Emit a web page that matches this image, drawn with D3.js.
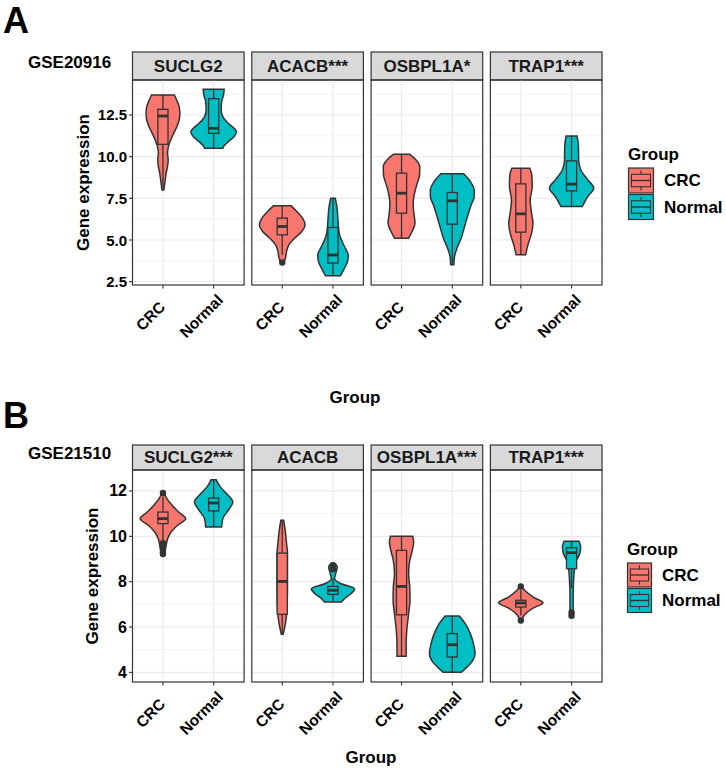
<!DOCTYPE html>
<html>
<head>
<meta charset="utf-8">
<script src="https://cdn.jsdelivr.net/npm/d3@7"></script>
<style>
  body { margin: 0; background: #fff; }
  text { font-family: "Liberation Sans", Arial, sans-serif; font-weight: bold; }
</style>
</head>
<body>
<div id="chart"></div>
<script>
// ---- data ----
const groups = ['CRC', 'Normal'];
const colors = ['#F8766D', '#00BFC4'];

const genesA = ['SUCLG2', 'ACACB***', 'OSBPL1A*', 'TRAP1***'];
const genesB = ['SUCLG2***', 'ACACB', 'OSBPL1A***', 'TRAP1***'];

const ticksA = [2.5, 5.0, 7.5, 10.0, 12.5];
const ticksB = [4, 6, 8, 10, 12];

// violin outlines: [expression, relative half width (1 = widest violin)]
const vA_SUCLG2_CRC = [[13.70, 0.50], [13.40, 0.60], [13.00, 0.71], [12.60, 0.74], [12.20, 0.71], [11.80, 0.61], [11.40, 0.47], [11.00, 0.34], [10.60, 0.24], [10.20, 0.20], [9.80, 0.23], [9.40, 0.20], [9.00, 0.14], [8.50, 0.09], [8.00, 0.04]];
const vA_SUCLG2_Normal = [[14.04, 0.46], [13.70, 0.43], [13.30, 0.35], [12.80, 0.33], [12.40, 0.40], [12.00, 0.64], [11.70, 0.89], [11.50, 1.00], [11.20, 0.89], [10.90, 0.64], [10.60, 0.43], [10.50, 0.40]];
const vA_ACACB_CRC = [[7.05, 0.39], [6.71, 0.64], [6.31, 0.89], [5.91, 1.00], [5.51, 0.86], [5.11, 0.54], [4.71, 0.29], [4.32, 0.19], [3.92, 0.14], [3.65, 0.07]];
const vA_ACACB_Normal = [[7.51, 0.10], [7.01, 0.17], [6.41, 0.21], [5.81, 0.24], [5.31, 0.29], [4.91, 0.40], [4.51, 0.54], [4.10, 0.67], [3.72, 0.64], [3.30, 0.50], [2.86, 0.33]];
const vA_OSBPL1A_CRC = [[10.14, 0.36], [9.80, 0.64], [9.40, 0.80], [8.90, 0.79], [8.41, 0.69], [7.81, 0.57], [7.21, 0.51], [6.61, 0.54], [6.01, 0.59], [5.51, 0.46], [5.11, 0.31]];
const vA_OSBPL1A_Normal = [[8.97, 0.50], [8.51, 0.79], [8.01, 0.96], [7.61, 0.96], [7.11, 0.83], [6.51, 0.69], [5.81, 0.54], [5.11, 0.39], [4.52, 0.21], [4.02, 0.10], [3.52, 0.07]];
const vA_TRAP1_CRC = [[9.31, 0.39], [8.91, 0.48], [8.21, 0.50], [7.41, 0.41], [6.61, 0.47], [6.01, 0.53], [5.41, 0.47], [4.71, 0.31], [4.12, 0.21]];
const vA_TRAP1_Normal = [[11.24, 0.24], [10.60, 0.30], [9.80, 0.31], [9.21, 0.40], [8.61, 0.71], [8.11, 0.97], [7.61, 0.71], [7.01, 0.47]];

const vB_SUCLG2_CRC = [[11.96, 0.04], [11.66, 0.17], [11.37, 0.40], [11.07, 0.69], [10.78, 1.00], [10.49, 0.64], [10.19, 0.36], [9.90, 0.21], [9.60, 0.14], [9.20, 0.07]];
const vB_SUCLG2_Normal = [[12.50, 0.11], [12.18, 0.29], [11.88, 0.57], [11.51, 0.84], [11.15, 0.64], [10.78, 0.40], [10.41, 0.35]];
const vB_ACACB_CRC = [[10.71, 0.06], [10.26, 0.13], [9.68, 0.19], [9.24, 0.23], [8.50, 0.23], [7.76, 0.23], [7.03, 0.22], [6.44, 0.18], [6.00, 0.11], [5.68, 0.04]];
const vB_ACACB_Normal = [[8.82, 0.07], [8.65, 0.19], [8.43, 0.14], [8.13, 0.07], [7.91, 0.36], [7.69, 0.95], [7.47, 0.79], [7.25, 0.50], [7.10, 0.37]];
const vB_OSBPL1A_CRC = [[10.00, 0.49], [9.75, 0.53], [9.38, 0.47], [8.94, 0.36], [8.35, 0.31], [7.76, 0.36], [7.18, 0.37], [6.59, 0.31], [5.85, 0.23], [5.26, 0.20], [4.71, 0.20]];
const vB_OSBPL1A_Normal = [[6.49, 0.31], [6.15, 0.57], [5.71, 0.79], [5.26, 0.93], [4.82, 1.00], [4.46, 0.86], [4.16, 0.57], [4.00, 0.40]];
const vB_TRAP1_CRC = [[7.79, 0.04], [7.62, 0.17], [7.32, 0.54], [7.07, 0.97], [6.81, 0.50], [6.51, 0.14], [6.26, 0.04]];
const vB_TRAP1_Normal = [[9.78, 0.33], [9.53, 0.40], [9.24, 0.36], [8.94, 0.21], [8.57, 0.13], [8.06, 0.09], [7.32, 0.07], [6.74, 0.07], [6.44, 0.04]];

// box stats: [lower whisker, q1, median, q3, upper whisker]
const boxA = [
  [[8.00, 10.74, 12.44, 12.84, 13.70], [10.50, 11.40, 11.70, 13.48, 14.04]],
  [[4.10, 5.31, 5.81, 6.31, 7.05], [2.86, 3.62, 4.10, 5.75, 7.51]],
  [[5.11, 6.61, 7.81, 9.01, 10.14], [3.52, 5.95, 7.35, 7.85, 8.97]],
  [[4.12, 5.47, 6.57, 8.37, 9.31], [7.01, 7.95, 8.35, 9.75, 11.24]]
];
const boxB = [
  [[9.82, 10.56, 10.78, 11.07, 11.74], [10.41, 11.12, 11.47, 11.69, 12.50]],
  [[5.68, 6.56, 8.01, 9.26, 10.71], [7.10, 7.44, 7.62, 7.79, 8.13]],
  [[4.71, 6.54, 7.79, 9.38, 10.00], [4.00, 4.68, 5.22, 5.71, 6.49]],
  [[6.51, 6.88, 7.06, 7.18, 7.62], [7.70, 8.57, 9.28, 9.50, 9.78]]
];
const outA = [[[], []], [[3.65], []], [[], []], [[], []]];
const outB = [
  [[11.91, 9.70, 9.56, 9.42, 9.30, 9.22], []],
  [[], [8.72, 8.55]],
  [[], []],
  [[7.79, 6.29], [6.64, 6.50]]
];

const violinsA = [
  [vA_SUCLG2_CRC, vA_SUCLG2_Normal],
  [vA_ACACB_CRC, vA_ACACB_Normal],
  [vA_OSBPL1A_CRC, vA_OSBPL1A_Normal],
  [vA_TRAP1_CRC, vA_TRAP1_Normal]
];
const violinsB = [
  [vB_SUCLG2_CRC, vB_SUCLG2_Normal],
  [vB_ACACB_CRC, vB_ACACB_Normal],
  [vB_OSBPL1A_CRC, vB_OSBPL1A_Normal],
  [vB_TRAP1_CRC, vB_TRAP1_Normal]
];

// ---- layout ----
const width = 726, height = 771;
const panelLeft = 132.5, panelW = 111.6, panelGap = 7.7;
const ink = '#333333';

const svg = d3.select('#chart').append('svg')
  .attr('width', width).attr('height', height)
  .attr('viewBox', `0 0 ${width} ${height}`);

function drawPart(cfg) {
  const g = svg.append('g');

  // panel letter + dataset name
  g.append('text').attr('x', cfg.letterX).attr('y', cfg.letterY)
    .style('font-size', '36px').text(cfg.letter);
  g.append('text').attr('x', 28).attr('y', cfg.gseY)
    .style('font-size', '17px').text(cfg.gse);

  // shared y scale, 5% expansion like ggplot
  const all = cfg.violins.flat(2).map(d => d[0]);
  const ext = d3.extent(all);
  const pad = (ext[1] - ext[0]) * 0.05;
  const y = d3.scaleLinear()
    .domain([ext[0] - pad, ext[1] + pad])
    .range([cfg.bottom, cfg.top]);

  const minor = [];
  for (let i = 0; i < cfg.ticks.length; i++) {
    const step = cfg.ticks[1] - cfg.ticks[0];
    [cfg.ticks[i] - step / 2, cfg.ticks[i] + step / 2].forEach(m => {
      if (m > y.domain()[0] && m < y.domain()[1] && !minor.includes(m)) minor.push(m);
    });
  }

  cfg.genes.forEach((gene, gi) => {
    const px = panelLeft + gi * (panelW + panelGap);
    const x = d3.scalePoint().domain(groups).range([px, px + panelW]).padding(0.6);
    const stepX = x.step();
    const half = 0.45 * stepX;
    const boxHalf = 0.1 * stepX;
    const pg = g.append('g');

    // strip
    pg.append('rect')
      .attr('x', px).attr('y', cfg.stripTop)
      .attr('width', panelW).attr('height', cfg.top - cfg.stripTop)
      .attr('fill', '#D9D9D9').attr('stroke', ink).attr('stroke-width', 1.2);
    pg.append('text')
      .attr('x', px + panelW / 2).attr('y', (cfg.stripTop + cfg.top) / 2)
      .attr('text-anchor', 'middle').attr('dominant-baseline', 'central')
      .attr('fill', '#1A1A1A')
      .style('font-size', '17px').text(gene);

    // grid
    pg.selectAll('.minor').data(minor).join('line')
      .attr('x1', px).attr('x2', px + panelW)
      .attr('y1', d => y(d)).attr('y2', d => y(d))
      .attr('stroke', '#EBEBEB').attr('stroke-width', 0.6);
    pg.selectAll('.major').data(cfg.ticks).join('line')
      .attr('x1', px).attr('x2', px + panelW)
      .attr('y1', d => y(d)).attr('y2', d => y(d))
      .attr('stroke', '#EBEBEB').attr('stroke-width', 1.2);
    pg.selectAll('.vgrid').data(groups).join('line')
      .attr('x1', d => x(d)).attr('x2', d => x(d))
      .attr('y1', cfg.top).attr('y2', cfg.bottom)
      .attr('stroke', '#EBEBEB').attr('stroke-width', 1.2);

    groups.forEach((grp, k) => {
      const cx = x(grp);
      const prof = cfg.violins[gi][k];
      const area = d3.area()
        .curve(d3.curveMonotoneY)
        .y(d => y(d[0]))
        .x0(d => cx - d[1] * half)
        .x1(d => cx + d[1] * half);
      pg.append('path')
        .datum(prof)
        .attr('d', area)
        .attr('fill', colors[k])
        .attr('stroke', ink).attr('stroke-width', 1.5);

      const b = cfg.boxes[gi][k];
      pg.append('line')
        .attr('x1', cx).attr('x2', cx).attr('y1', y(b[4])).attr('y2', y(b[3]))
        .attr('stroke', ink).attr('stroke-width', 1.3);
      pg.append('line')
        .attr('x1', cx).attr('x2', cx).attr('y1', y(b[1])).attr('y2', y(b[0]))
        .attr('stroke', ink).attr('stroke-width', 1.3);
      pg.append('rect')
        .attr('x', cx - boxHalf).attr('width', boxHalf * 2)
        .attr('y', y(b[3])).attr('height', y(b[1]) - y(b[3]))
        .attr('fill', colors[k]).attr('stroke', ink).attr('stroke-width', 1.3);
      pg.append('line')
        .attr('x1', cx - boxHalf).attr('x2', cx + boxHalf)
        .attr('y1', y(b[2])).attr('y2', y(b[2]))
        .attr('stroke', ink).attr('stroke-width', 2.8);

      pg.selectAll('.out' + k).data(cfg.outliers[gi][k]).join('circle')
        .attr('cx', cx).attr('cy', d => y(d)).attr('r', 3.2)
        .attr('fill', ink);
    });

    // border
    pg.append('rect')
      .attr('x', px).attr('y', cfg.top)
      .attr('width', panelW).attr('height', cfg.bottom - cfg.top)
      .attr('fill', 'none').attr('stroke', ink).attr('stroke-width', 1.2);

    // x axis ticks + rotated labels
    pg.selectAll('.xt').data(groups).join('line')
      .attr('x1', d => x(d)).attr('x2', d => x(d))
      .attr('y1', cfg.bottom).attr('y2', cfg.bottom + 3.5)
      .attr('stroke', ink).attr('stroke-width', 1.1);
    pg.selectAll('.xl').data(groups).join('text')
      .attr('transform', d => `translate(${x(d) - 12.5},${cfg.bottom + 31}) rotate(-45)`)
      .attr('text-anchor', 'middle').attr('dominant-baseline', 'central')
      .attr('fill', '#000')
      .style('font-size', '15.5px')
      .text(d => d);

    if (gi === 0) {
      pg.selectAll('.yt').data(cfg.ticks).join('line')
        .attr('x1', px - 3.5).attr('x2', px)
        .attr('y1', d => y(d)).attr('y2', d => y(d))
        .attr('stroke', ink).attr('stroke-width', 1.1);
      pg.selectAll('.yl').data(cfg.ticks).join('text')
        .attr('x', px - 5.5).attr('y', d => y(d))
        .attr('text-anchor', 'end').attr('dominant-baseline', 'central')
        .attr('fill', '#000')
        .style('font-size', cfg.tickSize)
        .text(d => cfg.tickFmt(d));
    }
  });

  // axis titles
  g.append('text')
    .attr('transform', `translate(${cfg.yTitleX},${(cfg.top + cfg.bottom) / 2}) rotate(-90)`)
    .attr('text-anchor', 'middle').attr('dominant-baseline', 'central')
    .style('font-size', '17px').text('Gene expression');
  g.append('text')
    .attr('x', cfg.xTitleX).attr('y', cfg.xTitleY)
    .attr('text-anchor', 'middle')
    .style('font-size', '17px').text('Group');

  // legend
  const lg = g.append('g').attr('transform', `translate(${cfg.legendX},${cfg.legendY})`);
  lg.append('text').attr('x', 0).attr('y', -8).style('font-size', '17px').text('Group');
  const ks = cfg.keySize;
  groups.forEach((grp, k) => {
    const ky = k * (ks + 1.5);
    lg.append('rect').attr('x', 0.5).attr('y', ky).attr('width', ks).attr('height', ks)
      .attr('fill', colors[k]).attr('stroke', ink).attr('stroke-width', 1.2);
    lg.append('line').attr('x1', 0.5 + ks / 2).attr('x2', 0.5 + ks / 2)
      .attr('y1', ky + ks * 0.1).attr('y2', ky + ks * 0.9)
      .attr('stroke', ink).attr('stroke-width', 1.1);
    lg.append('rect').attr('x', 0.5 + ks * 0.12).attr('y', ky + ks * 0.25)
      .attr('width', ks * 0.76).attr('height', ks * 0.5)
      .attr('fill', colors[k]).attr('stroke', ink).attr('stroke-width', 1.1);
    lg.append('line').attr('x1', 0.5 + ks * 0.12).attr('x2', 0.5 + ks * 0.88)
      .attr('y1', ky + ks / 2).attr('y2', ky + ks / 2)
      .attr('stroke', ink).attr('stroke-width', 1.4);
    lg.append('text').attr('x', ks + 11).attr('y', ky + ks / 2)
      .attr('dominant-baseline', 'central')
      .style('font-size', '17px').text(grp);
  });
}

drawPart({
  letter: 'A', letterX: 3, letterY: 33,
  gse: 'GSE20916', gseY: 68,
  genes: genesA, violins: violinsA, boxes: boxA, outliers: outA,
  ticks: ticksA, tickFmt: d3.format('.1f'), tickSize: '15px',
  stripTop: 52, top: 80, bottom: 285,
  yTitleX: 83, xTitleX: 355, xTitleY: 403,
  legendX: 628, legendY: 168, keySize: 25
});

drawPart({
  letter: 'B', letterX: 3, letterY: 428,
  gse: 'GSE21510', gseY: 459,
  genes: genesB, violins: violinsB, boxes: boxB, outliers: outB,
  ticks: ticksB, tickFmt: d3.format('d'), tickSize: '16px',
  stripTop: 445, top: 470, bottom: 682,
  yTitleX: 92, xTitleX: 371, xTitleY: 763,
  legendX: 627, legendY: 563, keySize: 24
});
</script>
</body>
</html>
